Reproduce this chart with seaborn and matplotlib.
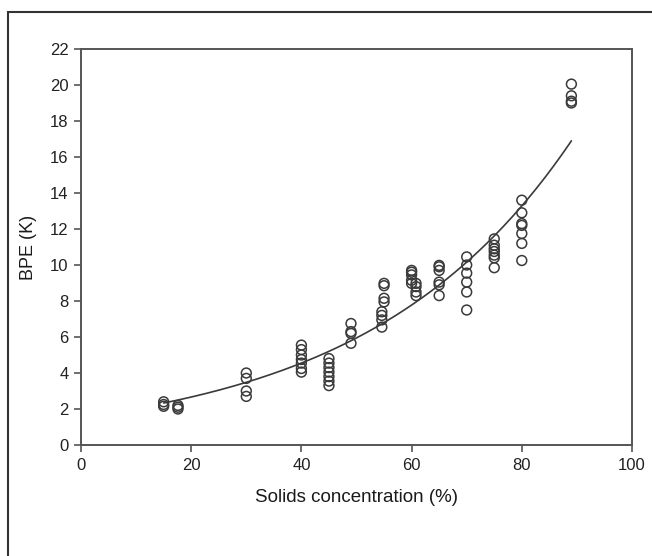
import numpy as np
import pandas as pd
import matplotlib
matplotlib.use("Agg")
import matplotlib.pyplot as plt
from matplotlib.patches import Rectangle
import seaborn as sns

# Measured boiling point elevation at each solids concentration
solids_levels = [15, 17.6, 30, 40, 45, 49, 54.6, 55, 60, 60.8, 65, 70, 75, 80, 89]
bpe_readings = [
    [2.4, 2.25, 2.15],
    [2.2, 2.1, 2.0],
    [4.0, 3.7, 3.0, 2.7],
    [5.55, 5.3, 5.0, 4.75, 4.55, 4.25, 4.05],
    [4.8, 4.55, 4.3, 4.05, 3.8, 3.55, 3.3],
    [6.75, 6.3, 6.2, 5.65],
    [7.4, 7.2, 6.95, 6.55],
    [8.98, 8.85, 8.15, 7.95],
    [9.7, 9.6, 9.45, 9.15, 8.98],
    [8.98, 8.8, 8.5, 8.3],
    [9.98, 9.9, 9.7, 9.05, 8.9, 8.3],
    [10.45, 10.0, 9.55, 9.05, 8.5, 7.5],
    [11.45, 11.1, 10.9, 10.75, 10.55, 10.4, 9.85],
    [13.6, 12.9, 12.3, 12.2, 11.75, 11.2, 10.25],
    [20.05, 19.4, 19.1, 19.0],
]

# Exponential fit BPE = a * exp(b * S), drawn over the measured range
fit_a = 1.56
fit_b = 0.02677
fit_range = (15, 89)

x_ticks = [0, 20, 40, 60, 80, 100]
y_ticks = list(range(0, 23, 2))

rows = [(s, v) for s, vals in zip(solids_levels, bpe_readings) for v in vals]
df = pd.DataFrame(rows, columns=["solids", "bpe"])

s_fit = np.linspace(fit_range[0], fit_range[1], 200)
fit_df = pd.DataFrame({"solids": s_fit, "bpe": fit_a * np.exp(fit_b * s_fit)})

sns.set_theme(style="white")
plt.rcParams["font.family"] = ["Liberation Sans", "DejaVu Sans"]

fig = plt.figure(figsize=(6.52, 5.56), dpi=100)
ax = fig.add_axes([81 / 652, 1 - 445 / 556, (632 - 81) / 652, (445 - 49) / 556])

ink = "#3a3a3a"
sns.scatterplot(data=df, x="solids", y="bpe", ax=ax, marker="o", s=50,
                facecolor="none", edgecolor=ink, linewidth=1.1, legend=False)
sns.lineplot(data=fit_df, x="solids", y="bpe", ax=ax, color=ink, linewidth=1.2)

ax.set_xlim(0, 100)
ax.set_ylim(0, 22)
ax.set_xticks(x_ticks)
ax.set_yticks(y_ticks)
ax.tick_params(axis="both", which="major", direction="out", length=5, width=1.2,
               color="#555555", labelsize=12, labelcolor="#222222", pad=4,
               bottom=True, left=True, top=False, right=False)
for sp in ax.spines.values():
    sp.set_color("#555555")
    sp.set_linewidth(1.4)

ax.set_xlabel("Solids concentration (%)", fontsize=13.5, color="#1a1a1a", labelpad=12)
ax.set_ylabel("BPE (K)", fontsize=13, color="#1a1a1a", labelpad=9)

# Outer panel frame
fig.patches.append(Rectangle((8 / 652, -0.1), 1.2, 1 - 12 / 556 + 0.1,
                             transform=fig.transFigure, fill=False,
                             edgecolor="#333333", linewidth=1.5))

fig.savefig("out.png", dpi=100)
